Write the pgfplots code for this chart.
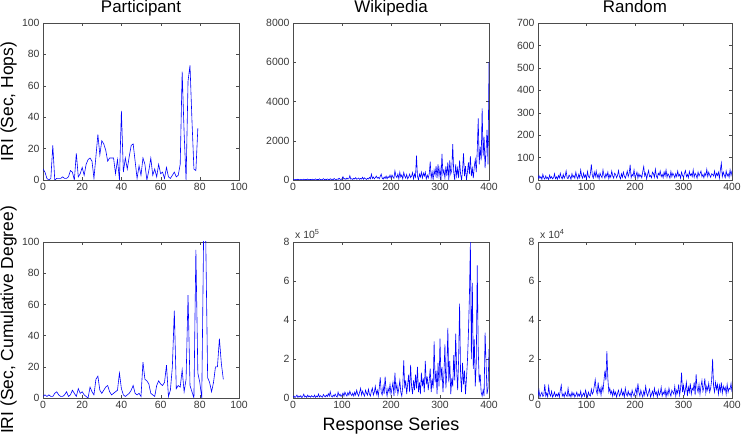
\documentclass[border=0pt]{standalone}
\usepackage{pgfplots}
\usepackage{pgfplotstable}
\pgfplotsset{compat=1.18}
\usepackage{fontspec}
\setmainfont{Liberation Sans}

\pgfplotstableread[header=false,row sep=\\]{7\\5\\1\\0\\1\\22\\0\\1\\1\\1\\2\\1\\1\\2\\6\\5\\0\\17\\2\\4\\8\\3\\10\\13\\14\\12\\1\\15\\29\\16\\25\\23\\19\\12\\14\\14\\14\\4\\13\\0\\44\\5\\14\\7\\15\\22\\23\\12\\1\\9\\3\\14\\10\\0\\6\\14\\3\\7\\2\\10\\4\\5\\1\\8\\2\\1\\3\\5\\2\\3\\10\\69\\30\\0\\63\\73\\38\\7\\6\\33\\}\partH

\pgfplotstableread[header=false,row sep=\\]{1\\2\\1\\2\\1\\1\\3\\4\\2\\1\\1\\2\\4\\1\\2\\5\\3\\1\\6\\3\\4\\2\\1\\0\\7\\4\\2\\12\\14\\5\\3\\5\\7\\8\\4\\2\\3\\4\\5\\16\\6\\2\\1\\2\\3\\5\\8\\3\\2\\3\\1\\23\\12\\11\\9\\3\\2\\1\\8\\11\\9\\8\\10\\21\\1\\5\\20\\56\\6\\8\\7\\18\\4\\12\\66\\8\\4\\0\\95\\16\\10\\0\\110\\105\\13\\10\\4\\10\\20\\20\\38\\22\\12\\}\partC

\pgfplotstableread[header=false,row sep=\\]{%
10\\25\\5\\30\\12\\40\\8\\20\\35\\6\\15\\45\\10\\28\\18\\50\\8\\22\\30\\12\\
40\\15\\25\\55\\10\\30\\20\\60\\14\\35\\25\\70\\18\\40\\12\\55\\30\\20\\65\\25\\
45\\15\\80\\35\\20\\50\\30\\90\\40\\25\\60\\170\\40\\80\\30\\100\\50\\60\\220\\40\\
70\\30\\90\\50\\120\\40\\60\\100\\30\\80\\50\\140\\40\\110\\60\\30\\90\\50\\130\\60\\
300\\80\\150\\60\\120\\200\\90\\140\\60\\180\\300\\100\\50\\150\\80\\200\\60\\170\\120\\250\\
100\\250\\150\\80\\470\\200\\120\\300\\60\\400\\150\\250\\50\\380\\200\\100\\280\\60\\150\\300\\
120\\200\\380\\50\\300\\150\\1240\\200\\0\\300\\150\\400\\100\\350\\200\\400\\50\\250\\100\\300\\
930\\100\\400\\0\\500\\250\\700\\100\\800\\200\\600\\0\\1330\\300\\500\\100\\700\\200\\900\\0\\
1000\\300\\500\\1830\\400\\0\\800\\200\\600\\100\\1000\\300\\0\\500\\1360\\200\\700\\0\\400\\900\\
300\\1220\\200\\600\\100\\700\\1050\\400\\1500\\3140\\800\\1700\\1000\\3650\\1200\\2200\\600\\1500\\2550\\800\\
6000\\}\wikiH

\pgfplotstableread[header=false,row sep=\\]{%
0.05\\0.1\\0.02\\0.08\\0.15\\0.03\\0.1\\0.05\\0.12\\0.02\\0.08\\0.2\\0.05\\0.1\\0.03\\0.15\\0.06\\0.1\\0.04\\0.12\\
0.08\\0.05\\0.15\\0.03\\0.1\\0.06\\0.2\\0.05\\0.12\\0.08\\0.04\\0.18\\0.1\\0.06\\0.15\\0.08\\0.22\\0.1\\0.32\\0.1\\
0.05\\0.15\\0.08\\0.2\\0.1\\0.05\\0.3\\0.12\\0.2\\0.08\\0.15\\0.25\\0.1\\0.3\\0.18\\0.1\\0.28\\0.15\\0.35\\0.2\\
0.12\\0.25\\0.1\\0.3\\0.15\\0.4\\0.2\\0.1\\0.3\\0.5\\0.15\\0.35\\0.2\\0.1\\0.4\\0.25\\0.15\\0.45\\0.2\\0.1\\
0.35\\0.5\\0.15\\0.3\\0.6\\0.2\\0.4\\0.1\\0.5\\1.06\\0.3\\0.15\\0.6\\0.2\\1.1\\0.4\\0.1\\0.5\\0.3\\0.7\\
0.2\\0.5\\0.8\\0.1\\1.3\\0.4\\0.7\\0.2\\0.5\\0.9\\0.3\\0.1\\0.6\\1.93\\0.5\\0.9\\0.2\\0.7\\1.2\\0.3\\
1.7\\0.6\\0.2\\0.9\\0.4\\1.2\\0.5\\1.6\\0.3\\0.8\\0.2\\1.3\\0.6\\1.0\\0.3\\1.9\\0.7\\1.1\\0.4\\0.9\\
1.5\\0.3\\1.0\\0.5\\2.9\\0.8\\1.4\\0.2\\1.8\\0.6\\3.05\\0.9\\1.6\\0.3\\1.2\\2.75\\0.5\\1.4\\3.6\\0.8\\
1.9\\0.2\\1.0\\0.6\\2.2\\0.9\\3.3\\1.5\\0.4\\2.0\\4.84\\1.2\\0.3\\1.8\\0.7\\1.4\\0.2\\1.0\\1.9\\3.3\\
5.2\\8.0\\2.0\\5.9\\1.5\\3.0\\0.6\\1.8\\6.8\\2.5\\0.8\\1.2\\0.3\\0.1\\0.4\\0.1\\3.35\\1.8\\0.2\\0.5\\
2.5\\}\wikiC

\pgfplotstableread[header=false,row sep=\\]{%
5\\20\\8\\15\\3\\25\\10\\4\\18\\6\\12\\2\\22\\8\\15\\5\\10\\28\\6\\14\\
3\\20\\9\\30\\12\\5\\25\\8\\18\\40\\10\\6\\22\\15\\3\\28\\12\\20\\8\\35\\
15\\5\\25\\10\\45\\18\\8\\30\\12\\22\\5\\38\\15\\10\\28\\70\\20\\8\\35\\15\\
40\\12\\25\\5\\30\\18\\10\\45\\20\\8\\28\\15\\35\\6\\22\\12\\40\\18\\8\\30\\
25\\10\\20\\42\\15\\5\\28\\12\\35\\18\\8\\22\\40\\15\\30\\68\\10\\25\\18\\45\\
12\\20\\35\\8\\28\\15\\22\\10\\38\\60\\18\\30\\5\\25\\42\\15\\20\\10\\35\\28\\
12\\48\\18\\8\\30\\22\\40\\15\\25\\10\\35\\18\\45\\12\\28\\20\\8\\38\\15\\30\\
22\\10\\28\\15\\40\\18\\25\\8\\35\\20\\12\\30\\42\\15\\25\\10\\38\\20\\28\\15\\
45\\12\\30\\22\\8\\35\\18\\28\\40\\15\\25\\10\\30\\20\\48\\15\\35\\22\\12\\28\\
25\\18\\40\\12\\30\\20\\35\\8\\45\\75\\15\\35\\22\\10\\40\\18\\28\\12\\45\\20\\
42\\}\randH

\pgfplotstableread[header=false,row sep=\\]{%
0.1\\0.4\\0.05\\0.2\\0.3\\0.08\\0.15\\0.7\\0.1\\0.25\\0.05\\0.6\\0.2\\0.1\\0.35\\0.05\\0.15\\0.3\\0.08\\0.2\\
0.1\\0.25\\0.05\\0.4\\0.65\\0.1\\0.2\\0.05\\0.3\\0.15\\0.08\\0.5\\0.1\\0.2\\0.05\\0.3\\0.12\\0.25\\0.05\\0.15\\
0.3\\0.08\\0.2\\0.1\\0.35\\0.05\\0.15\\0.25\\0.1\\0.4\\0.2\\0.05\\0.3\\0.15\\0.1\\0.45\\0.2\\0.3\\0.6\\0.94\\
0.4\\0.2\\0.8\\0.3\\0.5\\0.15\\0.6\\0.35\\0.9\\1.4\\0.9\\2.4\\1.0\\0.3\\0.5\\0.2\\0.35\\0.1\\0.4\\0.15\\
0.3\\0.05\\0.25\\0.4\\0.1\\0.2\\0.45\\0.15\\0.3\\0.05\\0.5\\0.2\\0.1\\0.35\\0.15\\0.25\\0.05\\0.4\\0.2\\0.1\\
0.3\\0.5\\0.15\\0.75\\0.3\\0.1\\0.4\\0.2\\0.05\\0.35\\0.15\\0.6\\0.25\\0.1\\0.3\\0.45\\0.05\\0.2\\0.35\\0.1\\
0.5\\0.2\\0.3\\0.05\\0.4\\0.15\\0.25\\0.55\\0.1\\0.3\\0.2\\0.45\\0.05\\0.35\\0.15\\0.5\\0.25\\0.1\\0.4\\0.3\\
0.2\\0.6\\0.1\\0.4\\0.25\\0.7\\0.15\\0.5\\1.3\\0.3\\0.65\\0.2\\0.45\\0.8\\0.1\\0.55\\0.3\\0.75\\0.2\\0.5\\
0.4\\0.8\\0.15\\1.22\\0.5\\0.3\\0.7\\0.2\\0.6\\0.9\\0.35\\0.55\\1.0\\0.25\\0.6\\0.4\\0.75\\0.3\\0.5\\0.9\\
2.0\\0.6\\0.3\\0.8\\0.45\\0.7\\0.2\\0.65\\0.35\\0.8\\0.25\\0.6\\0.4\\0.55\\0.2\\0.7\\0.3\\0.5\\0.45\\0.75\\
0.3\\}\randC

\pgfplotsset{
  mstyle/.style={
    scale only axis, width=196bp, height=157bp,
    anchor=south west,
    axis line style={black!70},
    tick style={black!70},
    major tick length=3bp,
    tick align=inside,
    tick pos=both,
    ticklabel style={font=\fontsize{10.5}{12}\selectfont, text=black!78},
    /pgf/number format/assume math mode=true,
    /pgf/number format/1000 sep={},
    scaled ticks=false,
    every axis title shift=0pt,
    title style={font=\fontsize{17}{20}\selectfont, anchor=base, at={(axis description cs:0.5,1)}, yshift=10.5bp},
    ylabel style={font=\fontsize{17.5}{20}\selectfont, anchor=center, at={(axis description cs:-0.175,0.5)}},
    xlabel style={font=\fontsize{18}{21}\selectfont, anchor=base, at={(axis description cs:0.5,0)}, yshift=-32bp},
    xmin=0, ymin=0,
    every axis plot/.append style={color=blue!85!white, line width=0.6pt, no markers},
  }
}

\begin{document}
\begin{tikzpicture}
\useasboundingbox (0,0) rectangle (744bp,435bp);

\begin{axis}[mstyle, at={(43bp,255bp)}, xmax=100, ymax=100,
  xtick={0,20,...,100}, ytick={0,20,...,100},
  title={Participant}, ylabel={IRI (Sec, Hops)}]
\addplot table[x expr=\coordindex, y index=0] {\partH};
\end{axis}

\begin{axis}[mstyle, at={(293bp,255bp)}, xmax=400, ymax=8000,
  xtick={0,100,...,400}, ytick={0,2000,...,8000},
  title={Wikipedia}]
\addplot table[x expr=\coordindex*2, y index=0] {\wikiH};
\end{axis}

\begin{axis}[mstyle, at={(538bp,255bp)}, width=194bp, xmax=400, ymax=700,
  xtick={0,100,...,400}, ytick={0,100,...,700},
  title={Random}]
\addplot table[x expr=\coordindex*2, y index=0] {\randH};
\end{axis}

\begin{axis}[mstyle, at={(43bp,37bp)}, height=156bp, xmax=100, ymax=100,
  xtick={0,20,...,100}, ytick={0,20,...,100},
  ylabel={IRI (Sec, Cumulative Degree)}]
\addplot table[x expr=\coordindex, y index=0] {\partC};
\end{axis}

\begin{axis}[mstyle, name=wc, at={(293bp,37bp)}, height=156bp, xmax=400, ymax=8,
  xtick={0,100,...,400}, ytick={0,2,...,8},
  xlabel={Response Series}]
\addplot table[x expr=\coordindex*2, y index=0] {\wikiC};
\end{axis}

\begin{axis}[mstyle, name=rc, at={(538bp,37bp)}, width=194bp, height=156bp, xmax=400, ymax=8,
  xtick={0,100,...,400}, ytick={0,2,...,8}]
\addplot table[x expr=\coordindex*2, y index=0] {\randC};
\end{axis}

\node[anchor=base west, font=\fontsize{10.5}{12}\selectfont, text=black!78, inner sep=0pt] at ([xshift=2bp,yshift=4bp]wc.north west) {x 10\textsuperscript{5}};
\node[anchor=base west, font=\fontsize{10.5}{12}\selectfont, text=black!78, inner sep=0pt] at ([xshift=2bp,yshift=4bp]rc.north west) {x 10\textsuperscript{4}};
\end{tikzpicture}
\end{document}
